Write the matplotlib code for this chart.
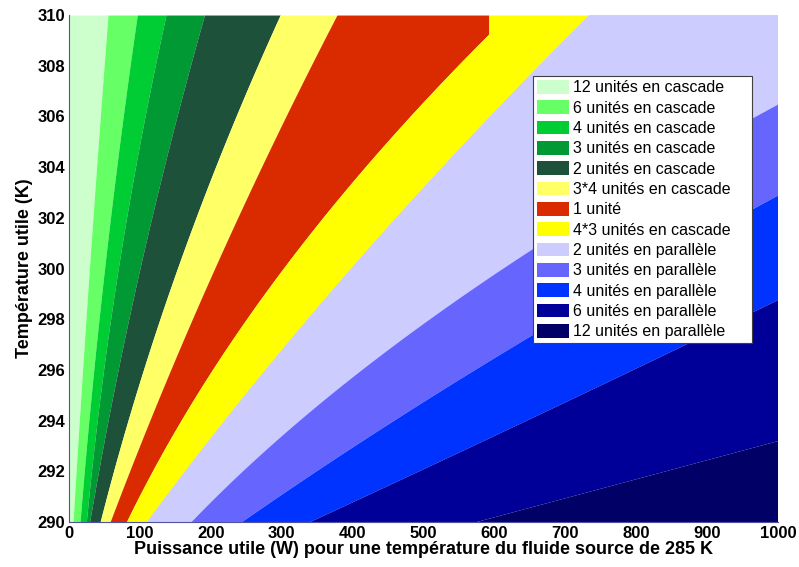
import numpy as np
import matplotlib
matplotlib.use("Agg")
import matplotlib.pyplot as plt
from matplotlib.patches import Patch

plt.rcParams['font.family'] = ['Liberation Sans', 'DejaVu Sans']

# temperatures where the boundaries were read (K)
temps = [290, 295, 300, 305, 310]

# boundary power (W) between neighbouring regions, left to right
boundaries = [
    [6, 15.5, 30, 41, 55],          # 12 cascade | 6 cascade
    [16, 30, 51, 72, 96],           # 6 | 4 cascade
    [24, 45, 69, 100, 137],         # 4 | 3 cascade
    [30, 60, 100, 145, 190],        # 3 | 2 cascade
    [44, 93, 154, 220, 298],        # 2 cascade | 3*4
    [58, 128, 206, 288, 378],       # 3*4 | 1 unite
    [81, 178, 305, 446, 620],       # 1 unite | 4*3
    [112, 244, 396, 566, 731],      # 4*3 | 2 parallele
    [170, 368, 632, 880, 1255],     # 2 | 3 parallele
    [238, 533, 800, 1145, 1500],    # 3 | 4 parallele
    [337, 730, 1085, 1450, 1800],   # 4 | 6 parallele
    [575, 1240, 1900, 2550, 3200],  # 6 | 12 parallele
]
red_cap = 592  # the "1 unité" zone stops here

labels = ['12 unités en cascade', '6 unités en cascade', '4 unités en cascade',
          '3 unités en cascade', '2 unités en cascade', '3*4 unités en cascade',
          '1 unité', '4*3 unités en cascade', '2 unités en parallèle',
          '3 unités en parallèle', '4 unités en parallèle', '6 unités en parallèle',
          '12 unités en parallèle']
colors = ['#CCFFCC', '#66FF66', '#00CC33', '#009933', '#1E513A', '#FFFF66',
          '#DA2A00', '#FFFF00', '#CCCCFF', '#6666FF', '#0033FF', '#000099',
          '#000066']

fig = plt.figure(figsize=(7.99, 5.67), dpi=100)
ax = fig.add_axes([0.0864, 0.0794, 0.8873, 0.8941])

# smooth curve through the read points of each boundary
T = np.linspace(290, 310, 400)
curves = [np.zeros_like(T)]
for i, b in enumerate(boundaries):
    c = np.polyval(np.polyfit(temps, b, 2), T)
    if i == 6:
        c = np.minimum(c, red_cap)
    curves.append(c)
curves.append(np.full_like(T, 5000))

for i in range(len(labels)):
    ax.fill_betweenx(T, curves[i], curves[i + 1], color=colors[i], lw=0)

ax.set_xlim(0, 1000)
ax.set_ylim(290, 310)
ax.set_xticks(np.arange(0, 1001, 100))
ax.set_yticks(np.arange(290, 311, 2))
ax.tick_params(length=0, pad=3, labelsize=12)
for t in ax.get_xticklabels() + ax.get_yticklabels():
    t.set_fontweight('bold')
for s in ['top', 'right']:
    ax.spines[s].set_visible(False)
for s in ['left', 'bottom']:
    ax.spines[s].set_color('#5050A0')
    ax.spines[s].set_linewidth(0.8)

ax.set_xlabel('Puissance utile (W) pour une température du fluide source de 285 K',
              fontsize=13, fontweight='bold', labelpad=0)
ax.set_ylabel('Température utile (K)', fontsize=13, fontweight='bold', labelpad=3)

handles = [Patch(facecolor=c, edgecolor='none') for c in colors]
leg = ax.legend(handles, labels, loc='upper left', mode='expand',
                bbox_to_anchor=(0.6544, 0.8797, 0.309, 0),
                fontsize=11.5, frameon=True, fancybox=False, framealpha=1,
                handlelength=2.0, handleheight=0.95, handletextpad=0.25,
                labelspacing=0.31, borderpad=0.25, borderaxespad=0)
leg.get_frame().set_edgecolor('#404040')
leg.get_frame().set_linewidth(0.8)

fig.savefig('out.png', dpi=100)
